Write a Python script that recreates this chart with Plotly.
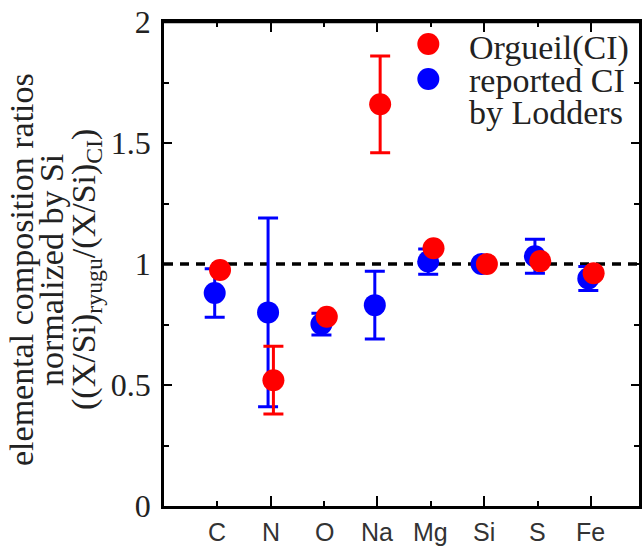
import plotly.graph_objects as go

# ---- data ----
elements = ["C", "N", "O", "Na", "Mg", "Si", "S", "Fe"]
positions = [1, 2, 3, 4, 5, 6, 7, 8]
major_positions = [2, 4, 6, 8]
minor_positions = [1, 3, 5, 7]

orgueil_ratio = [0.975, 0.52, 0.782, 1.66, 1.065, 1.0, 1.012, 0.962]
orgueil_err = [0, 0.14, 0, 0.20, 0, 0, 0, 0]

lodders_ratio = [0.88, 0.80, 0.752, 0.83, 1.01, 1.0, 1.032, 0.94]
lodders_err = [0.10, 0.39, 0.045, 0.14, 0.052, 0, 0.07, 0.05]

reference_ratio = 1.0
y_ticks = [0, 0.5, 1, 1.5, 2]

legend_labels = ["Orgueil(CI)", "reported CI", "by Lodders"]
title_lines = [
    "elemental composition ratios",
    "normalized by Si",
    "((X/Si)<sub>ryugu</sub>/(X/Si)<sub>CI</sub>)",
]

# ---- layout constants ----
W, H = 642, 548
ML, MR, MT, MB = 164, 0, 22, 42
X_RANGE = [0, 8.9]
Y_RANGE = [0, 2]
OFFSET = 0.05
RED = "#ff0000"
BLUE = "#0000ff"
SERIF = "Liberation Serif"

pw = W - ML - MR
ph = H - MT - MB


def px_to_paper_x(px):
    return (px - ML) / pw


def px_to_paper_y(py):
    return (H - MB - py) / ph


fig = go.Figure()

fig.add_trace(go.Scatter(
    x=[p - OFFSET for p in positions], y=lodders_ratio,
    mode="markers", name="reported CI by Lodders",
    marker=dict(color=BLUE, size=22),
    error_y=dict(type="data", array=lodders_err, color=BLUE, thickness=3, width=10),
    showlegend=False,
))
fig.add_trace(go.Scatter(
    x=[p + OFFSET for p in positions], y=orgueil_ratio,
    mode="markers", name="Orgueil(CI)",
    marker=dict(color=RED, size=22),
    error_y=dict(type="data", array=orgueil_err, color=RED, thickness=3, width=10),
    showlegend=False,
))
# empty helper trace so the top frame axis is drawn
fig.add_trace(go.Scatter(x=[None], y=[None], xaxis="x2", yaxis="y",
                         showlegend=False, hoverinfo="skip"))

fig.add_hline(y=reference_ratio, line=dict(color="black", width=3.5, dash="9px,7px"),
              layer="below")

# top frame line of the plot box
fig.add_shape(type="line", xref="paper", yref="paper", x0=0, x1=1, y0=1, y1=1,
              line=dict(color="black", width=2.5), layer="above")

tick_style = dict(ticks="inside", tickwidth=2, tickcolor="black")

fig.update_layout(
    width=W, height=H,
    margin=dict(l=ML, r=MR, t=MT, b=MB),
    plot_bgcolor="white", paper_bgcolor="white",
    showlegend=False,
    xaxis=dict(
        range=X_RANGE, tickmode="array", tickvals=major_positions, ticklen=10,
        minor=dict(tickmode="array", tickvals=minor_positions, ticklen=5, **tick_style),
        showticklabels=False,
        showline=True, linewidth=2.5, linecolor="black",
        showgrid=False, zeroline=False, **tick_style,
    ),
    # top frame axis with its own ticks
    xaxis2=dict(
        range=X_RANGE, overlaying="x", anchor="y", side="top",
        tickmode="array", tickvals=major_positions, ticklen=10,
        minor=dict(tickmode="array", tickvals=minor_positions, ticklen=5, **tick_style),
        showticklabels=False,
        showline=True, linewidth=2.5, linecolor="black",
        showgrid=False, zeroline=False, **tick_style,
    ),
    yaxis=dict(
        range=Y_RANGE, tickmode="array", tickvals=y_ticks, ticklen=8,
        minor=dict(dtick=0.25, ticklen=5, **tick_style),
        showline=True, linewidth=2.5, linecolor="black", mirror="ticks",
        showgrid=False, zeroline=False,
        tickfont=dict(family=SERIF, size=32, color="#222"),
        ticklabelstandoff=4, **tick_style,
    ),
)

# category labels under every tick (placed on the x scale)
for pos, name in zip(positions, elements):
    fig.add_annotation(
        text=name, xref="x", yref="paper", x=pos, y=0,
        xanchor="center", yanchor="middle", yshift=-26, showarrow=False,
        font=dict(family="Liberation Sans", size=25, color="#333"),
    )

# y-axis title: three rotated lines
title_centers_px = [21, 51, 86]
for txt, cx in zip(title_lines, title_centers_px):
    fig.add_annotation(
        text=txt, xref="paper", yref="paper", x=0, y=0.5,
        xanchor="center", yanchor="middle", xshift=cx - ML, yshift=-6,
        textangle=-90, showarrow=False,
        font=dict(family=SERIF, size=34, color="#222"),
    )

# legend (markers + text)
legend_marker_px = [(430, 44, RED), (430, 79, BLUE)]
for mx, my, col in legend_marker_px:
    fig.add_shape(
        type="circle", xref="paper", yref="paper",
        xsizemode="pixel", ysizemode="pixel",
        xanchor=px_to_paper_x(mx), yanchor=px_to_paper_y(my),
        x0=-11, x1=11, y0=-11, y1=11,
        fillcolor=col, line=dict(width=0),
    )
legend_text_px = [48, 80, 112]
for txt, ty in zip(legend_labels, legend_text_px):
    fig.add_annotation(
        text=txt, xref="paper", yref="paper",
        x=px_to_paper_x(469), y=px_to_paper_y(ty),
        xanchor="left", yanchor="middle", showarrow=False,
        font=dict(family=SERIF, size=34, color="#222"),
    )

fig.write_html(
    "out.html",
    config={"displayModeBar": False},
    post_script="document.body.style.margin='0';document.body.style.overflow='hidden';",
)
